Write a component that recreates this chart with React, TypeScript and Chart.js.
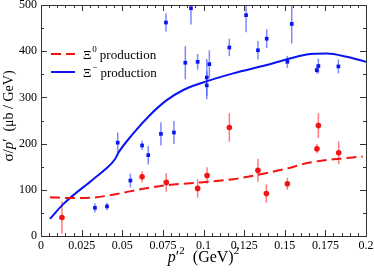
import { useEffect, useRef } from "react";
import { Chart, registerables } from "chart.js";
Chart.register(...registerables);

// ---- Data ----
const xTicks = [0, 0.025, 0.05, 0.075, 0.1, 0.125, 0.15, 0.175, 0.2];
const yTicks = [0, 100, 200, 300, 400, 500];

// Xi- measured points
const xiMinusDataX = [0.0332, 0.0406, 0.0472, 0.055, 0.0622, 0.066, 0.0738, 0.0769, 0.0818, 0.0888, 0.0923, 0.0964, 0.102, 0.102, 0.1036, 0.1159, 0.1262, 0.1335, 0.1389, 0.1516, 0.1543, 0.1697, 0.1707, 0.183];
const xiMinusDataY = [61, 64, 202, 120, 196, 175, 221, 462, 224, 375, 493, 377, 343, 326, 372, 408, 478, 402, 427, 377, 459, 359, 368, 367];
const xiMinusDataErr = [10, 8, 22, 15, 10, 20, 25, 20, 25, 36, 35, 17, 40, 30, 30, 19, 37, 20, 20, 13, 42, 8, 16, 15];

// Xi0 measured points
const xiZeroDataX = [0.0129, 0.0622, 0.0771, 0.0964, 0.1022, 0.1159, 0.1335, 0.1387, 0.1516, 0.1698, 0.1707, 0.1832];
const xiZeroDataY = [40, 128, 116, 103, 131, 235, 142, 92, 113, 189, 239, 180];
const xiZeroDataErr = [35, 12, 20, 20, 18, 31, 25, 20, 13, 10, 27, 25];

// Theory curves
const xiMinusCurveX = [0.0055, 0.0137, 0.0322, 0.0394, 0.0455, 0.0476, 0.0568, 0.0671, 0.0774, 0.0876, 0.0978, 0.1183, 0.1389, 0.1532, 0.1635, 0.1758, 0.1881, 0.2];
const xiMinusCurveY = [37, 69, 123, 144, 166, 180, 222, 262, 294, 316, 330, 352, 370, 384, 393, 395, 388, 377];
const xiZeroCurveX = [0.0055, 0.02, 0.032, 0.0466, 0.061, 0.0773, 0.098, 0.1183, 0.1327, 0.149, 0.1655, 0.18, 0.198];
const xiZeroCurveY = [84, 82, 83, 91, 101, 110, 116, 123, 132, 144, 159, 166, 172];

const legendLabels = ["production", "production"];

const FONT = "'Liberation Serif', 'DejaVu Serif', serif";
const BLUE = "#0a14f0";
const RED = "#f01414";

const zip = (xs: number[], ys: number[]) => xs.map((x, i) => ({ x, y: ys[i] }));

const decorPlugin = {
  id: "decor",
  beforeDatasetsDraw(chart: any) {
    const { ctx, chartArea: a, scales } = chart;
    const xs = scales.x, ys = scales.y;
    ctx.save();
    ctx.beginPath();
    ctx.rect(a.left, a.top, a.right - a.left, a.bottom - a.top);
    ctx.clip();
    const bars = (X: number[], Y: number[], E: number[], color: string) => {
      ctx.strokeStyle = color;
      ctx.lineWidth = 1.5;
      X.forEach((x, i) => {
        const px = xs.getPixelForValue(x);
        ctx.beginPath();
        ctx.moveTo(px, ys.getPixelForValue(Y[i] - E[i]));
        ctx.lineTo(px, ys.getPixelForValue(Y[i] + E[i]));
        ctx.stroke();
      });
    };
    bars(xiMinusDataX, xiMinusDataY, xiMinusDataErr, "rgba(70,90,255,0.7)");
    bars(xiZeroDataX, xiZeroDataY, xiZeroDataErr, "rgba(255,70,70,0.7)");
    ctx.restore();
  },
  afterDraw(chart: any) {
    const { ctx, chartArea: a, scales } = chart;
    const xs = scales.x, ys = scales.y;
    ctx.save();
    // frame
    ctx.strokeStyle = "#333";
    ctx.lineWidth = 1;
    ctx.strokeRect(Math.round(a.left) + 0.5, Math.round(a.top) + 0.5, Math.round(a.right - a.left), Math.round(a.bottom - a.top));
    // x ticks
    for (let i = 0; i < xTicks.length; i++) {
      const v = xTicks[i];
      const px = Math.round(xs.getPixelForValue(v)) + 0.5;
      ctx.beginPath();
      ctx.moveTo(px, a.bottom); ctx.lineTo(px, a.bottom - 6);
      ctx.moveTo(px, a.top); ctx.lineTo(px, a.top + 6);
      ctx.stroke();
      if (i < xTicks.length - 1) {
        const step = (xTicks[i + 1] - v) / 5;
        for (let k = 1; k < 5; k++) {
          const mx = Math.round(xs.getPixelForValue(v + k * step)) + 0.5;
          ctx.beginPath();
          ctx.moveTo(mx, a.bottom); ctx.lineTo(mx, a.bottom - 3);
          ctx.moveTo(mx, a.top); ctx.lineTo(mx, a.top + 3);
          ctx.stroke();
        }
      }
    }
    for (let i = 0; i < yTicks.length; i++) {
      const v = yTicks[i];
      const py = Math.round(ys.getPixelForValue(v)) + 0.5;
      ctx.beginPath();
      ctx.moveTo(a.left, py); ctx.lineTo(a.left + 6, py);
      ctx.moveTo(a.right, py); ctx.lineTo(a.right - 6, py);
      ctx.stroke();
      if (i < yTicks.length - 1) {
        const my = Math.round(ys.getPixelForValue((v + yTicks[i + 1]) / 2)) + 0.5;
        ctx.beginPath();
        ctx.moveTo(a.left, my); ctx.lineTo(a.left + 3, my);
        ctx.moveTo(a.right, my); ctx.lineTo(a.right - 3, my);
        ctx.stroke();
      }
    }
    // legend
    const lx = a.left + 10;
    const rows = [
      { y: a.top + 49, color: RED, dash: [10, 5], sup: "0" },
      { y: a.top + 67, color: BLUE, dash: [], sup: "\u2212" },
    ];
    rows.forEach((r, i) => {
      ctx.strokeStyle = r.color;
      ctx.lineWidth = 2;
      ctx.setLineDash(r.dash);
      ctx.beginPath();
      ctx.moveTo(lx, r.y); ctx.lineTo(lx + 24, r.y);
      ctx.stroke();
      ctx.setLineDash([]);
      ctx.fillStyle = "#000";
      ctx.textBaseline = "alphabetic";
      ctx.textAlign = "left";
      ctx.font = `13px ${FONT}`;
      let tx = lx + 32;
      ctx.fillText("\u039E", tx, r.y + 5);
      tx += ctx.measureText("\u039E").width + 1;
      ctx.font = `9px ${FONT}`;
      ctx.fillText(r.sup, tx, r.y - 2);
      tx += ctx.measureText(r.sup).width + 3;
      ctx.font = `13px ${FONT}`;
      ctx.fillText(legendLabels[i], tx, r.y + 5);
    });
    // titles
    const drawPieces = (pieces: any[], cx: number, base: number) => {
      let w = 0;
      pieces.forEach((p) => { ctx.font = p.f; w += ctx.measureText(p.t).width; });
      let x = cx - w / 2;
      pieces.forEach((p) => {
        ctx.font = p.f;
        ctx.fillText(p.t, x, base + p.dy);
        x += ctx.measureText(p.t).width;
      });
    };
    ctx.fillStyle = "#000";
    drawPieces([
      { t: "p", f: `italic 16px ${FONT}`, dy: 0 },
      { t: "\u2032", f: `16px ${FONT}`, dy: 0 },
      { t: "2", f: `11px ${FONT}`, dy: -8 },
      { t: "  (GeV)", f: `16px ${FONT}`, dy: 0 },
      { t: "2", f: `11px ${FONT}`, dy: -8 },
    ], (a.left + a.right) / 2, 262);
    ctx.save();
    ctx.translate(13, 116);
    ctx.rotate(-Math.PI / 2);
    drawPieces([
      { t: "\u03C3/", f: `15px ${FONT}`, dy: 0 },
      { t: "p", f: `italic 15px ${FONT}`, dy: 0 },
      { t: "\u2032", f: `15px ${FONT}`, dy: 0 },
      { t: "  (\u03BCb / GeV)", f: `14px ${FONT}`, dy: 0 },
    ], 0, 0);
    ctx.restore();
    ctx.restore();
  },
};

export default function App() {
  const ref = useRef<HTMLCanvasElement>(null);
  useEffect(() => {
    if (!ref.current) return;
    const tickFont = { family: FONT, size: 12 };
    const chart = new Chart(ref.current, {
      type: "scatter",
      data: {
        datasets: [
          {
            type: "line",
            label: "Xi0 theory",
            data: zip(xiZeroCurveX, xiZeroCurveY),
            borderColor: RED,
            borderWidth: 2,
            borderDash: [10, 5],
            pointRadius: 0,
            cubicInterpolationMode: "monotone",
            fill: false,
          } as any,
          {
            type: "line",
            label: "Xi- theory",
            data: zip(xiMinusCurveX, xiMinusCurveY),
            borderColor: BLUE,
            borderWidth: 2,
            pointRadius: 0,
            cubicInterpolationMode: "monotone",
            fill: false,
          } as any,
          {
            label: "Xi- data",
            data: zip(xiMinusDataX, xiMinusDataY),
            backgroundColor: BLUE,
            borderColor: BLUE,
            borderWidth: 0,
            pointStyle: "rect",
            pointRadius: 2.6,
          },
          {
            label: "Xi0 data",
            data: zip(xiZeroDataX, xiZeroDataY),
            backgroundColor: RED,
            borderColor: RED,
            borderWidth: 0,
            pointStyle: "circle",
            pointRadius: 2.8,
          },
        ],
      },
      options: {
        animation: false,
        responsive: false,
        layout: { padding: { top: 5, right: 8, left: 0, bottom: 0 } },
        plugins: { legend: { display: false }, tooltip: { enabled: false } },
        scales: {
          x: {
            type: "linear",
            min: 0,
            max: 0.2,
            grid: { display: false, drawTicks: false },
            border: { display: false },
            afterBuildTicks: (s: any) => { s.ticks = xTicks.map((v) => ({ value: v })); },
            afterFit: (s: any) => { s.height = 42; s.paddingLeft = 0; s.paddingRight = 0; },
            ticks: { font: tickFont, color: "#000", padding: 3, maxRotation: 0, autoSkip: false, callback: (v: any) => String(v) },
          },
          y: {
            type: "linear",
            min: 0,
            max: 500,
            grid: { display: false, drawTicks: false },
            border: { display: false },
            afterBuildTicks: (s: any) => { s.ticks = yTicks.map((v) => ({ value: v })); },
            afterFit: (s: any) => { s.width = 41; s.paddingTop = 0; s.paddingBottom = 0; },
            ticks: { font: tickFont, color: "#000", padding: 4, autoSkip: false, callback: (v: any) => String(v) },
          },
        },
      },
      plugins: [decorPlugin],
    });
    return () => chart.destroy();
  }, []);
  return (
    <div style={{ position: "absolute", left: 0, top: 0, width: 374, height: 278, background: "#fff" }}>
      <canvas ref={ref} width={374} height={278} />
    </div>
  );
}
